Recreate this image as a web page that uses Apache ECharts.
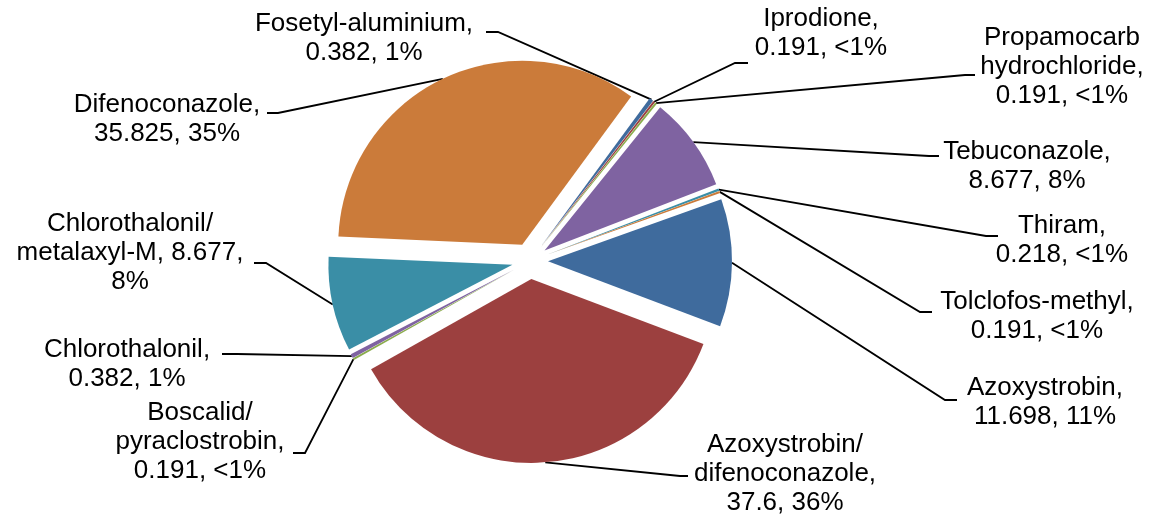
<!DOCTYPE html>
<html lang="en">
<head>
    <meta charset="UTF-8">
    <title>Fungicide pie</title>
    <script src="https://cdn.jsdelivr.net/npm/echarts@6/dist/echarts.min.js"></script>
    <style>
        html, body { margin: 0; padding: 0; background: #fff; }
        #main { width: 1163px; height: 521px; }
    </style>
</head>
<body>
    <div id="main"></div>
    <script type="text/javascript">
    // data (clockwise from the first slice)
    var names = ['Fosetyl-aluminium', 'Iprodione', 'Propamocarb\nhydrochloride', 'Tebuconazole', 'Thiram',
        'Tolclofos-methyl', 'Azoxystrobin', 'Azoxystrobin/\ndifenoconazole', 'Boscalid/\npyraclostrobin',
        'Chlorothalonil', 'Chlorothalonil/\nmetalaxyl-M', 'Difenoconazole'];
    var values = [0.382, 0.191, 0.191, 8.677, 0.218, 0.191, 11.698, 37.6, 0.191, 0.382, 8.677, 35.825];
    var pctText = ['1%', '<1%', '<1%', '8%', '<1%', '<1%', '11%', '36%', '<1%', '1%', '8%', '35%'];
    // where each label breaks: after the name / after the value
    var sepName = [',\n', ',\n', ',\n', ',\n', ',\n', ',\n', ',\n', ',\n', ',\n', ',\n', ', ', ',\n'];
    var sepValue = [', ', ', ', ', ', ', ', ', ', ', ', ', ', ', ', ', ', ', ', ',\n', ', '];

    var colors = ['#3f6b9d', '#9c403f', '#8aab4c', '#7f63a1', '#3a8ea6', '#cb7b3a'];

    // label layout: text centre, and leader line end [x, y, bendX]
    var labelPos = [[364, 38], [821, 33], [1062, 67], [1027, 166], [1062, 240], [1037, 316],
        [1045, 402], [785, 474], [200, 442], [127, 364], [130, 253], [167, 119]];
    var lineEnd = [[486, 32, 498], [748, 63, 735], [975, 75, 965], [939, 156, 929], [998, 236, 986],
        [932, 312, 920], [957, 400, 945], [688, 476, 680], [293, 453, 305], [222, 354, 237],
        [254, 263, 266], [267, 113, 278]];

    var explode = 18;

    var myChart = echarts.init(document.getElementById('main'), null, {renderer: 'canvas'});

    var seriesData = [];
    for (var i = 0; i < names.length; i++) {
        seriesData.push({
            name: names[i],
            value: values[i],
            selected: true,
            itemStyle: {color: colors[i % colors.length]}
        });
    }

    myChart.setOption({
        animation: false,
        series: [{
            type: 'pie',
            center: [530, 261],
            radius: [0, 184],
            startAngle: 53.7,
            clockwise: true,
            selectedMode: 'multiple',
            selectedOffset: explode,
            data: seriesData,
            label: {show: false},
            labelLine: {show: false},
            emphasis: {disabled: true}
        }]
    }, true);

    // labels and leader lines, anchored at the middle of each exploded arc
    var pieData = myChart.getModel().getSeriesByIndex(0).getData();
    var graphics = [];
    for (var k = 0; k < names.length; k++) {
        var lay = pieData.getItemLayout(k);
        var mid = (lay.startAngle + lay.endAngle) / 2;
        var rr = lay.r + explode;
        var ax = lay.cx + rr * Math.cos(mid);
        var ay = lay.cy + rr * Math.sin(mid);
        var e = lineEnd[k];
        graphics.push({
            type: 'polyline',
            silent: true,
            shape: {points: [[ax, ay], [e[2], e[1]], [e[0], e[1]]]},
            style: {stroke: '#000', lineWidth: 1.8, fill: null}
        });
        graphics.push({
            type: 'text',
            silent: true,
            x: labelPos[k][0],
            y: labelPos[k][1],
            style: {
                text: names[k] + sepName[k] + values[k] + sepValue[k] + pctText[k],
                fontFamily: 'Liberation Sans',
                fontSize: 26,
                lineHeight: 29,
                fill: '#000',
                align: 'center',
                verticalAlign: 'middle'
            }
        });
    }
    myChart.setOption({graphic: graphics});
    </script>
</body>
</html>
